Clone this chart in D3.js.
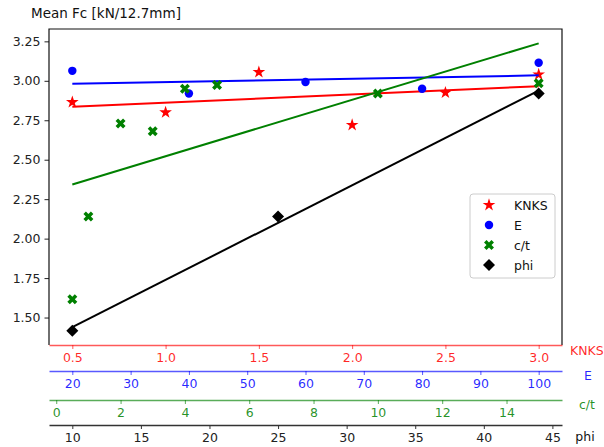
<!DOCTYPE html>
<html>
<head>
<meta charset="utf-8">
<script src="https://cdn.jsdelivr.net/npm/d3@7"></script>
<style>
  body { margin: 0; background: #fff; }
  text { font-family: "DejaVu Sans", sans-serif; }
</style>
</head>
<body>
<div id="chart"></div>
<script>
// values
var knks = [0.5, 1.0, 1.5, 2.0, 2.5, 3.0];
var knksFc = [2.865, 2.80, 3.055, 2.72, 2.925, 3.04];
var eMod = [20, 40, 60, 80, 100];
var eFc = [3.063, 2.92, 2.993, 2.95, 3.114];
var ct = [0.5, 1, 2, 3, 4, 5, 10, 15];
var ctFc = [1.616, 2.14, 2.73, 2.68, 2.95, 2.974, 2.92, 2.985];
var phi = [10, 25, 44];
var phiFc = [1.417, 2.14, 2.92];

var yTicks = [1.5, 1.75, 2.0, 2.25, 2.5, 2.75, 3.0, 3.25];
var knksTicks = [0.5, 1.0, 1.5, 2.0, 2.5, 3.0];
var eTicks = [20, 30, 40, 50, 60, 70, 80, 90, 100];
var ctTicks = [0, 2, 4, 6, 8, 10, 12, 14];
var phiTicks = [10, 15, 20, 25, 30, 35, 40, 45];

var W = 604, H = 447;
var pL = 49, pR = 562, pT = 29, pB = 345;

// least squares fit, like np.polyfit(x, y, 1)
function fit(xs, ys) {
    var mx = d3.mean(xs), my = d3.mean(ys);
    var sxy = d3.sum(xs, function(x, i) { return (x - mx) * (ys[i] - my); });
    var sxx = d3.sum(xs, function(x) { return (x - mx) * (x - mx); });
    var b = sxy / sxx;
    var lo = d3.min(xs), hi = d3.max(xs);
    return [[lo, my + b * (lo - mx)], [hi, my + b * (hi - mx)]];
}
// matplotlib style 5% margins
function padded(vals) {
    var e = d3.extent(vals), m = (e[1] - e[0]) * 0.05;
    return [e[0] - m, e[1] + m];
}

var series = [
    {name: "KNKS", xs: knks, ys: knksFc, color: "red", ticks: knksTicks, fmt: d3.format(".1f"), shape: "star"},
    {name: "E", xs: eMod, ys: eFc, color: "blue", ticks: eTicks, fmt: d3.format("d"), shape: "circle"},
    {name: "c/t", xs: ct, ys: ctFc, color: "green", ticks: ctTicks, fmt: d3.format("d"), shape: "cross"},
    {name: "phi", xs: phi, ys: phiFc, color: "black", ticks: phiTicks, fmt: d3.format("d"), shape: "diamond"}
];
series.forEach(function(s) {
    s.x = d3.scaleLinear().domain(padded(s.xs)).range([pL, pR]);
    s.fit = fit(s.xs, s.ys);
});

var allY = [];
series.forEach(function(s) { allY = allY.concat(s.ys, [s.fit[0][1], s.fit[1][1]]); });
var y = d3.scaleLinear().domain(padded(allY)).range([pB, pT]);

var svg = d3.select("#chart").append("svg").attr("width", W).attr("height", H);

svg.append("text").attr("x", 31).attr("y", 18).attr("font-size", 13.5).attr("fill", "#111")
    .text("Mean Fc [kN/12.7mm]");

// y axis
var yAxis = svg.append("g").attr("transform", "translate(" + pL + ",0)")
    .call(d3.axisLeft(y).tickValues(yTicks).tickFormat(d3.format(".2f")).tickSize(4.5).tickPadding(4));
yAxis.select(".domain").remove();
yAxis.selectAll("line").attr("stroke", "#222");
yAxis.selectAll("text").attr("font-size", 12.5).attr("fill", "#222").attr("font-family", "DejaVu Sans");

// frame (top, left, right)
svg.append("path").attr("d", "M" + pL + "," + pB + "V" + pT + "H" + pR + "V" + pB)
    .attr("fill", "none").attr("stroke", "#111").attr("stroke-width", 1.2);

// stacked x axes
var axisY = [345, 371, 400, 425];
var labelPos = [[570, 355], [588, 380], [587, 409], [585, 441]];
series.forEach(function(s, i) {
    var black = s.color === "black";
    var g = svg.append("g").attr("transform", "translate(0," + axisY[i] + ")")
        .call(d3.axisBottom(s.x).tickValues(s.ticks).tickFormat(s.fmt).tickSizeInner(4).tickSizeOuter(0).tickPadding(4));
    var lc = black ? "#333" : s.color;
    g.select(".domain").attr("stroke", lc).attr("stroke-opacity", black ? 1 : 0.65).attr("stroke-width", 1.3);
    g.selectAll(".tick line").attr("stroke", lc).attr("stroke-opacity", black ? 1 : 0.65);
    g.selectAll("text").attr("font-size", 12.5).attr("font-family", "DejaVu Sans")
        .attr("fill", black ? "#222" : s.color).attr("fill-opacity", black ? 1 : 0.85);
    svg.append("text").attr("x", labelPos[i][0]).attr("y", labelPos[i][1])
        .attr("text-anchor", i === 0 ? "start" : "middle")
        .attr("font-size", 12.5).attr("fill", black ? "#111" : s.color)
        .attr("fill-opacity", black ? 1 : 0.85)
        .text(s.name);
});

var symType = {star: d3.symbolStar, circle: d3.symbolCircle, cross: d3.symbolCross, diamond: d3.symbolSquare};
var symSize = {star: 50, circle: 56, cross: 62, diamond: 72};
function marker(g, shape, color, pts) {
    var rot = (shape === "cross" || shape === "diamond") ? 45 : 0;
    g.selectAll(null).data(pts).enter().append("path")
        .attr("d", d3.symbol().type(symType[shape]).size(symSize[shape])())
        .attr("fill", color)
        .attr("transform", function(d) { return "translate(" + d[0] + "," + d[1] + ") rotate(" + rot + ")"; });
}

var plot = svg.append("g");
var line = d3.line();
series.forEach(function(s) {
    var pts = s.xs.map(function(v, i) { return [s.x(v), y(s.ys[i])]; });
    marker(plot, s.shape, s.color, pts);
    plot.append("path")
        .attr("d", line(s.fit.map(function(p) { return [s.x(p[0]), y(p[1])]; })))
        .attr("fill", "none").attr("stroke", s.color).attr("stroke-width", 2);
});

// legend
var lg = svg.append("g").attr("transform", "translate(470,194)");
lg.append("rect").attr("width", 85).attr("height", 84).attr("rx", 3)
    .attr("fill", "#fff").attr("fill-opacity", 0.8).attr("stroke", "#ccc");
series.forEach(function(s, i) {
    var yy = 11 + i * 20;
    marker(lg, s.shape, s.color, [[19, yy]]);
    lg.append("text").attr("x", 44).attr("y", yy + 4.5).attr("font-size", 12.5).attr("fill", "#111").text(s.name);
});
</script>
</body>
</html>
